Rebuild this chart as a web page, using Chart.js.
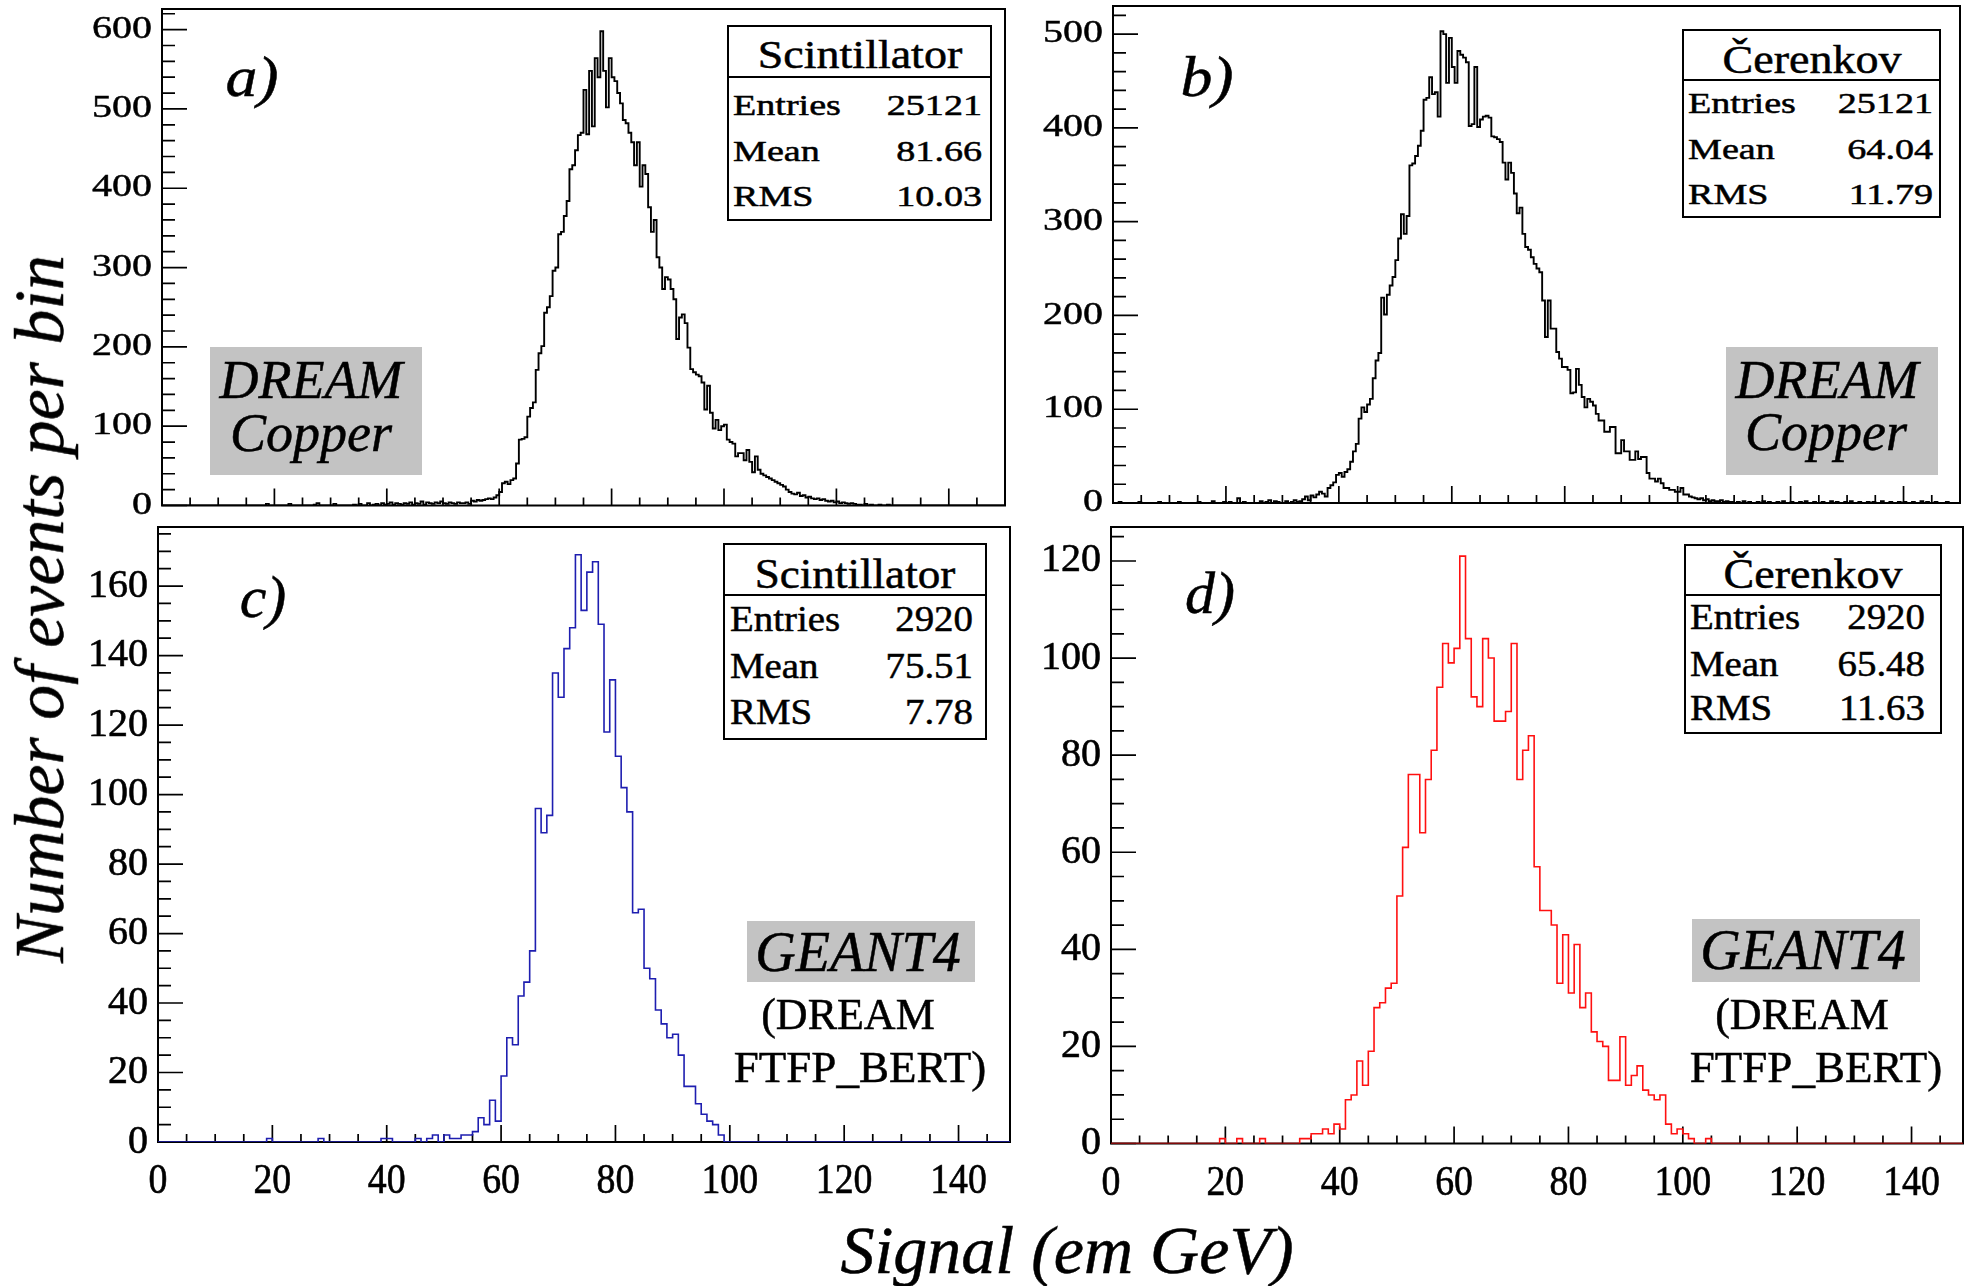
<!DOCTYPE html>
<html>
<head>
<meta charset="utf-8">
<script src="https://cdn.jsdelivr.net/npm/chart.js@4.4.1/dist/chart.umd.min.js"></script>
<style>
  html, body { margin: 0; padding: 0; background: #fff; overflow: hidden; }
  #page { position: relative; width: 1969px; height: 1286px; overflow: hidden; background: #fff; color: #000; }
  #page canvas { position: absolute; left: 0; top: 0; }
  .t { position: absolute; white-space: nowrap; line-height: 1; font-family: "Liberation Serif", Times, serif;
       -webkit-text-stroke: 0.5px #000; }
  .stat { position: absolute; border: 2px solid #000; background: #fff; box-sizing: border-box; }
  .rule { position: absolute; background: #000; height: 1.5px; }
  .tag { position: absolute; background: #c3c3c3; }
</style>
</head>
<body>
<div id="page">
  <canvas id="cA" width="1969" height="1286"></canvas>
  <canvas id="cB" width="1969" height="1286"></canvas>
  <canvas id="cC" width="1969" height="1286"></canvas>
  <canvas id="cD" width="1969" height="1286"></canvas>
</div>
<script>
// ---- data (counts per bin, signal in em GeV) ----
const SIGNAL_MIN = 0;
const dreamBinWidth = 0.5;
const geantBinWidth = 1;

// DREAM copper, scintillator signal, 0.5 GeV bins from 0 to 150
const dreamScintCounts = [
  0,0,0,0,0,0,0,0,0,0, 0,0,0,0,0,0,0,0,0,0,                 // 0 - 10
  0,0,0,0,0,0,0,0,0,0, 0,0,0,0,0,0,0,2,0,0,                 // 10 - 20
  0,0,0,0,0,2,0,0,0,0, 0,0,0,0,1,3,0,0,0,0,                 // 20 - 30
  0,2,0,0,0,0,0,0,1,0, 2,0,0,3,0,1,2,0,3,1,                 // 30 - 40
  2,4,1,3,2,1,3,2,4,1, 3,2,5,1,4,3,2,4,3,5,                 // 40 - 50
  3,2,4,3,2,4,3,3,4,2, 6,5,7,6,7,8,9,8,10,13,               // 50 - 60
  17,28,30,27,32,34,53,83,84,86, 112,123,130,171,192,201,243,250,264,296,
  300,342,345,365,384,424,429,448,467,470, 524,468,548,478,564,540,598,548,502,564,
  540,535,520,507,486,482,470,458,429,458, 402,429,418,376,345,360,313,300,273,288,
  285,273,260,210,237,241,230,199,172,168, 165,163,155,121,151,117,97,108,95,100,
  102,83,80,78,62,66,66,57,70,55, 42,62,45,40,38,36,34,32,30,28,
  26,24,20,17,15,14,16,12,13,10, 11,9,8,9,7,8,6,5,6,4,       // 110 - 120
  5,3,4,3,2,3,2,1,1,0, 2,0,1,0,0,1,0,0,1,0,                 // 120 - 130
  0,0,0,0,0,0,0,0,0,0, 0,0,0,0,0,0,0,0,0,0,                 // 130 - 140
  0,0,0,0,0,0,0,0,0,0, 0,0,0,0,0,0,0,0,0,0,                 // 140 - 150
];

// DREAM copper, Cerenkov signal, 0.5 GeV bins from 0 to 150
const dreamCerenkovCounts = [
  0,0,1,0,0,0,0,0,0,1, 0,0,0,0,0,0,1,0,0,0,
  0,0,0,1,0,0,0,0,0,0, 1,0,0,0,0,2,0,0,0,1,
  0,1,0,0,5,0,1,0,0,0, 0,0,2,0,1,3,0,2,1,0,
  0,2,0,1,3,1,2,4,7,3, 8,6,9,12,10,7,16,19,22,30,
  32,28,33,36,44,55,63,90,102,97, 105,111,133,152,160,219,201,222,232,241,
  259,282,308,287,306,360,362,370,381,397, 430,432,454,436,438,412,503,500,448,496,
  465,448,482,478,475,470,402,404,465,401, 409,412,413,411,391,390,388,385,363,345,
  363,352,330,309,315,287,273,270,262,255, 250,246,216,177,216,186,186,161,154,145,
  145,142,117,118,143,126,113,102,111,108, 104,95,88,88,76,76,81,81,53,53,
  67,55,55,46,46,55,47,49,49,32, 26,26,23,26,21,16,16,14,14,12,
  12,16,9,9,7,6,5,4,5,3, 4,2,3,2,2,3,1,2,1,1,
  0,1,0,2,0,1,0,0,1,0, 2,0,1,0,0,1,0,2,0,0,
  1,0,0,1,0,2,0,0,1,0, 0,1,0,0,2,0,1,0,0,1,
  0,2,0,0,1,0,0,1,0,1, 0,0,2,0,0,1,0,0,1,0,
  1,0,0,1,0,0,2,0,1,0, 0,1,0,0,0,1,0,0,0,0,
];

// GEANT4 (FTFP_BERT), scintillator signal, 1 GeV bins from 0 to 150
const geantScintCounts = [
  0,0,0,0,0,0,0,0,0,0,
  0,0,0,0,0,0,0,0,0,1,
  0,0,0,0,0,0,0,0,1,0,
  0,0,0,0,0,0,0,0,0,1,
  1,0,0,0,0,1,0,1,2,0,
  2,1,1,2,2,3,7,5,12,6,
  19,30,28,42,46,55,96,89,94,135,
  128,142,148,169,153,164,167,149,118,133,
  111,102,95,66,67,50,47,38,34,30,
  31,25,16,16,11,8,6,5,2,0,
  0,0,0,0,0,0,0,0,0,0,
  0,0,0,0,0,0,0,0,0,0,
  0,0,0,0,0,0,0,0,0,0,
  0,0,0,0,0,0,0,0,0,0,
  0,0,0,0,0,0,0,0,0,0,
];

// GEANT4 (FTFP_BERT), Cerenkov signal, 1 GeV bins from 0 to 150
const geantCerenkovCounts = [
  0,0,0,0,0,0,0,0,0,0,
  0,0,0,0,0,0,0,0,0,1,
  0,0,1,0,0,0,1,0,0,0,
  0,0,0,1,1,2,2,3,2,4,
  3,9,10,17,12,19,28,29,32,33,
  51,61,76,76,64,75,81,94,103,99,
  102,121,104,92,90,104,100,87,87,89,
  103,75,81,84,57,48,48,45,33,43,
  31,41,28,31,23,21,20,13,13,22,
  12,14,16,11,10,9,10,4,2,3,
  2,1,0,0,1,0,0,0,0,0,
  0,0,0,0,0,0,0,0,0,0,
  0,0,0,0,0,0,0,0,0,0,
  0,0,0,0,0,0,0,0,0,0,
  0,0,0,0,0,0,0,0,0,0,
];

const xTickLabels = [0, 20, 40, 60, 80, 100, 120, 140];
const yTicksDreamScint = [0, 100, 200, 300, 400, 500, 600];
const yTicksDreamCerenkov = [0, 100, 200, 300, 400, 500];
const yTicksGeantScint = [0, 20, 40, 60, 80, 100, 120, 140, 160];
const yTicksGeantCerenkov = [0, 20, 40, 60, 80, 100, 120];

const statLabels = ['Entries', 'Mean', 'RMS'];
const dreamScintStats = ['25121', '81.66', '10.03'];
const dreamCerenkovStats = ['25121', '64.04', '11.79'];
const geantScintStats = ['2920', '75.51', '7.78'];
const geantCerenkovStats = ['2920', '65.48', '11.63'];

// ---- layout ----
const PAGE_W = 1969, PAGE_H = 1286;
const FONT = '"Liberation Serif", Times, serif';
const page = document.getElementById('page');

const panels = [
  { canvas: 'cA', counts: dreamScintCounts, binWidth: dreamBinWidth, color: '#000000', lineWidth: 1.9,
    left: 162, top: 9, right: 1005, bottom: 505.5, xMax: 150, yMax: 626,
    yTicks: yTicksDreamScint, yMajor: 100, yMinor: 20, ySy: 0.78, xLabels: null },
  { canvas: 'cB', counts: dreamCerenkovCounts, binWidth: dreamBinWidth, color: '#000000', lineWidth: 1.9,
    left: 1113, top: 6, right: 1960, bottom: 503, xMax: 150, yMax: 530,
    yTicks: yTicksDreamCerenkov, yMajor: 100, yMinor: 20, ySy: 0.78, xLabels: null },
  { canvas: 'cC', counts: geantScintCounts, binWidth: geantBinWidth, color: '#1e1eb0', lineWidth: 1.6,
    left: 158, top: 527, right: 1010, bottom: 1142, xMax: 149, yMax: 177,
    yTicks: yTicksGeantScint, yMajor: 20, yMinor: 5, ySy: 1, xLabels: xTickLabels },
  { canvas: 'cD', counts: geantCerenkovCounts, binWidth: geantBinWidth, color: '#ff1010', lineWidth: 1.6,
    left: 1111, top: 527, right: 1963, bottom: 1143.5, xMax: 149, yMax: 127,
    yTicks: yTicksGeantCerenkov, yMajor: 20, yMinor: 5, ySy: 1, xLabels: xTickLabels },
];

function histPoints(counts, binWidth) {
  const pts = counts.map((c, i) => ({ x: SIGNAL_MIN + i * binWidth, y: c }));
  pts.push({ x: SIGNAL_MIN + counts.length * binWidth, y: counts[counts.length - 1] });
  return pts;
}

// labels get a thin outline so they carry the weight of the printed figure
function heavyText(ctx, str) {
  ctx.fillText(str, 0, 0);
  ctx.strokeText(str, 0, 0);
}

// ROOT-like frame with inward ticks, drawn under the histogram
function rootAxes(p) {
  return {
    id: 'rootAxes',
    beforeDatasetsDraw(chart) {
      const { ctx, chartArea: a } = chart;
      const xs = chart.scales.x, ys = chart.scales.y;
      ctx.save();
      ctx.strokeStyle = '#000';
      ctx.lineWidth = 2;
      ctx.strokeRect(a.left, a.top, a.right - a.left, a.bottom - a.top);

      ctx.lineWidth = 1.7;
      ctx.beginPath();
      for (let v = 0; v <= p.xMax; v += 5) {
        const px = xs.getPixelForValue(v);
        const len = v % 20 === 0 ? 17 : 8;
        ctx.moveTo(px, a.bottom);
        ctx.lineTo(px, a.bottom - len);
      }
      for (let v = 0; v <= p.yMax; v += p.yMinor) {
        const py = ys.getPixelForValue(v);
        const len = v % p.yMajor === 0 ? 25 : 13;
        ctx.moveTo(a.left, py);
        ctx.lineTo(a.left + len, py);
      }
      ctx.stroke();

      ctx.fillStyle = '#000';
      ctx.lineWidth = 0.6;
      ctx.font = '40px ' + FONT;
      ctx.textAlign = 'right';
      ctx.textBaseline = 'middle';
      p.yTicks.forEach(v => {
        ctx.save();
        ctx.translate(a.left - 10, ys.getPixelForValue(v));
        ctx.scale(1, p.ySy);
        heavyText(ctx, String(v));
        ctx.restore();
      });

      if (p.xLabels) {
        ctx.font = '42px ' + FONT;
        ctx.textAlign = 'center';
        p.xLabels.forEach(v => {
          ctx.save();
          ctx.translate(xs.getPixelForValue(v), a.bottom + 40);
          ctx.scale(0.9, 1);
          heavyText(ctx, String(v));
          ctx.restore();
        });
      }
      ctx.restore();
    }
  };
}

function drawCharts() {
  panels.forEach(p => {
    new Chart(document.getElementById(p.canvas), {
      type: 'line',
      data: {
        datasets: [{
          data: histPoints(p.counts, p.binWidth),
          borderColor: p.color,
          borderWidth: p.lineWidth,
          stepped: 'before',
          pointRadius: 0,
          fill: false,
          tension: 0,
        }]
      },
      options: {
        responsive: false,
        animation: false,
        devicePixelRatio: 1,
        events: [],
        layout: { padding: { left: p.left, top: p.top, right: PAGE_W - p.right, bottom: PAGE_H - p.bottom } },
        scales: {
          x: { type: 'linear', min: 0, max: p.xMax, display: false },
          y: { type: 'linear', min: 0, max: p.yMax, display: false },
        },
        plugins: { legend: { display: false }, tooltip: { enabled: false } },
      },
      plugins: [rootAxes(p)],
    });
  });
}

// ---- text overlays ----
function addText(str, x, y, o) {
  const el = document.createElement('div');
  el.className = 't';
  el.textContent = str;
  const align = o.align || 'center';
  el.style.left = x + 'px';
  el.style.top = y + 'px';
  el.style.fontSize = o.size + 'px';
  if (o.italic) el.style.fontStyle = 'italic';
  const tx = align === 'left' ? '0' : align === 'right' ? '-100%' : '-50%';
  el.style.transformOrigin = (align === 'left' ? 'left' : align === 'right' ? 'right' : 'center') + ' center';
  el.style.transform = `translate(${tx}, -50%) scale(${o.sx || 1}, ${o.sy || 1})` + (o.rotate ? ` rotate(${o.rotate}deg)` : '');
  page.appendChild(el);
}

function addBox(cls, l, t, r, b) {
  const el = document.createElement('div');
  el.className = cls;
  el.style.left = l + 'px';
  el.style.top = t + 'px';
  el.style.width = (r - l) + 'px';
  el.style.height = (b - t) + 'px';
  page.appendChild(el);
}

// grey labels
addBox('tag', 210, 347, 422, 475);
addBox('tag', 1726, 347, 1938, 475);
addBox('tag', 747, 921, 975, 982);
addBox('tag', 1692, 919, 1920, 982);
addText('DREAM', 311, 380, { size: 54, italic: true });
addText('Copper', 311, 433, { size: 54, italic: true });
addText('DREAM', 1827, 380, { size: 54, italic: true });
addText('Copper', 1826, 432, { size: 54, italic: true });
addText('GEANT4', 858, 952, { size: 56, italic: true });
addText('GEANT4', 1803, 950, { size: 56, italic: true });
addText('(DREAM', 848, 1015, { size: 44 });
addText('FTFP_BERT)', 860, 1067, { size: 45 });
addText('(DREAM', 1802, 1015, { size: 44 });
addText('FTFP_BERT)', 1816, 1067, { size: 45 });

// statistics boxes
const statBoxes = [
  { title: 'Scintillator', values: dreamScintStats, l: 727, t: 25, r: 992, b: 221, div: 76, titleY: 55,
    rows: [104.5, 151, 195.5], labelX: 733, valueX: 982, titleSize: 40, titleSx: 1.15, rowSize: 30, rowSx: 1.27 },
  { title: 'Čerenkov', values: dreamCerenkovStats, l: 1682, t: 29, r: 1941, b: 218, div: 79, titleY: 60,
    rows: [103, 149, 194], labelX: 1688, valueX: 1933, titleSize: 40, titleSx: 1.15, rowSize: 30, rowSx: 1.27 },
  { title: 'Scintillator', values: geantScintStats, l: 723, t: 543, r: 987, b: 740, div: 594, titleY: 572.5,
    rows: [619, 666, 712], labelX: 730, valueX: 973, titleSize: 43, titleSx: 1.05, rowSize: 36, rowSx: 1.08 },
  { title: 'Čerenkov', values: geantCerenkovStats, l: 1684, t: 544, r: 1942, b: 734, div: 594, titleY: 572.5,
    rows: [617, 664, 708], labelX: 1690, valueX: 1925, titleSize: 43, titleSx: 1.07, rowSize: 36, rowSx: 1.08 },
];
statBoxes.forEach(s => {
  addBox('stat', s.l, s.t, s.r, s.b);
  addBox('rule', s.l, s.div, s.r, s.div + 1.5);
  addText(s.title, (s.l + s.r) / 2, s.titleY, { size: s.titleSize, sx: s.titleSx });
  statLabels.forEach((lab, i) => {
    addText(lab, s.labelX, s.rows[i], { size: s.rowSize, sx: s.rowSx, align: 'left' });
    addText(s.values[i], s.valueX, s.rows[i], { size: s.rowSize, sx: s.rowSx, align: 'right' });
  });
});

// panel letters
addText('a)', 252, 77, { size: 58, italic: true, sx: 1.1 });
addText('b)', 1207, 77, { size: 58, italic: true, sx: 1.1 });
addText('c)', 263, 597, { size: 60, italic: true });
addText('d)', 1210, 593, { size: 60, italic: true });

// axis titles
addText('Number of events per bin', 40, 609, { size: 70, italic: true, rotate: -90 });
addText('Signal (em GeV)', 1067, 1250, { size: 68, italic: true });

document.fonts.load('40px "Liberation Serif"').then(drawCharts, drawCharts);
</script>
</body>
</html>
